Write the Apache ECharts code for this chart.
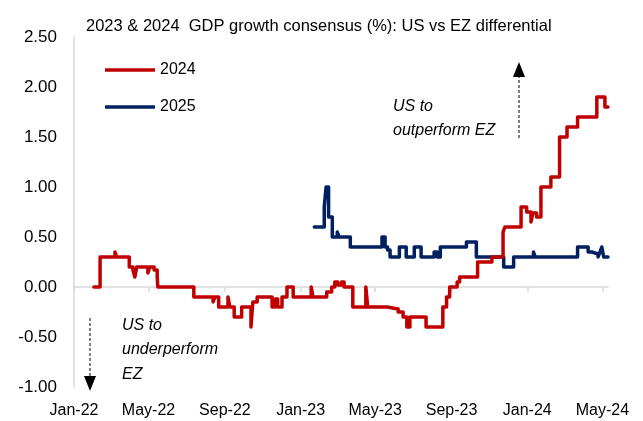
<!DOCTYPE html>
<html>
<head>
<meta charset="utf-8">
<script src="https://cdn.jsdelivr.net/npm/echarts@6/dist/echarts.min.js"></script>
<style>
html,body{margin:0;padding:0;background:#fff;}
#chart{width:643px;height:421px;}
</style>
</head>
<body>
<div id="chart"></div>
<script>
// ---- Data ----
const titleText = '2023 & 2024  GDP growth consensus (%): US vs EZ differential';
const seriesNames = ['2024', '2025'];
const tickDates = ['2022-01-01','2022-05-01','2022-09-01','2023-01-01','2023-05-01','2023-09-01','2024-01-01','2024-05-01'];
const axisStart = '2022-01-01';
const axisEnd = '2024-05-10';

const redDates = ['2022-02-02','2022-02-12','2022-03-08','2022-03-11','2022-03-31','2022-04-06','2022-04-09','2022-04-12','2022-04-30','2022-05-03','2022-05-10','2022-05-15','2022-05-16','2022-07-13','2022-08-13','2022-08-16','2022-08-22','2022-09-06','2022-09-09','2022-09-16','2022-09-28','2022-10-13','2022-10-16','2022-10-23','2022-11-16','2022-11-21','2022-11-25','2022-12-02','2022-12-10','2022-12-20','2023-01-18','2023-01-21','2023-02-12','2023-02-20','2023-02-25','2023-03-02','2023-03-08','2023-03-12','2023-03-26','2023-04-16','2023-04-19','2023-05-20','2023-06-07','2023-06-15','2023-06-21','2023-06-26','2023-07-22','2023-08-18','2023-08-24','2023-08-29','2023-09-10','2023-09-14','2023-10-13','2023-11-05','2023-11-23','2023-11-26','2023-12-22','2023-12-31','2024-01-07','2024-01-10','2024-01-16','2024-01-23','2024-02-08','2024-02-22','2024-03-05','2024-03-22','2024-04-22','2024-05-05','2024-05-10'];
const redValues = [0.00,0.30,0.35,0.30,0.20,0.17,0.10,0.20,0.14,0.20,0.17,0.10,0.00,-0.10,-0.15,-0.10,-0.20,-0.10,-0.20,-0.30,-0.20,-0.40,-0.15,-0.10,-0.20,-0.12,-0.20,-0.10,0.00,-0.10,0.00,-0.10,-0.05,0.00,0.05,0.02,0.05,0.00,-0.20,0.00,-0.20,-0.22,-0.25,-0.30,-0.40,-0.30,-0.40,-0.20,-0.10,0.00,0.05,0.10,0.25,0.30,0.55,0.60,0.80,0.75,0.65,0.74,0.70,1.00,1.10,1.50,1.60,1.70,1.90,1.80,1.80];

const blueDates = ['2023-01-23','2023-02-08','2023-02-11','2023-02-15','2023-02-21','2023-03-01','2023-03-04','2023-03-22','2023-05-12','2023-05-17','2023-05-21','2023-05-25','2023-06-09','2023-06-20','2023-07-03','2023-07-14','2023-08-04','2023-08-09','2023-08-14','2023-09-25','2023-10-11','2023-11-24','2023-12-10','2024-01-11','2024-01-14','2024-03-22','2024-04-08','2024-04-14','2024-04-24','2024-04-27','2024-04-30','2024-05-03','2024-05-10'];
const blueValues = [0.60,0.80,1.00,0.70,0.50,0.55,0.50,0.40,0.50,0.40,0.37,0.30,0.40,0.30,0.40,0.30,0.35,0.30,0.40,0.45,0.30,0.20,0.30,0.35,0.30,0.40,0.35,0.33,0.30,0.35,0.40,0.30,0.30];

// ---- Build ----
const MONTHS = ['Jan','Feb','Mar','Apr','May','Jun','Jul','Aug','Sep','Oct','Nov','Dec'];
const ts = s => Date.parse(s);
const fmtDate = v => { const d = new Date(v); return MONTHS[d.getUTCMonth()] + '-' + String(d.getUTCFullYear()).slice(2); };
const pairs = (ds, vs) => ds.map((d, i) => [ts(d), vs[i]]);
const tickValues = tickDates.map(ts);
const FONT = 'Liberation Sans, Arial, sans-serif';
const GRAY = '#d9d9d9';

const chart = echarts.init(document.getElementById('chart'), null, {renderer: 'canvas'});
chart.setOption({
  animation: false,
  backgroundColor: '#ffffff',
  textStyle: {fontFamily: FONT},
  title: {
    text: titleText, left: 81, top: 13,
    textStyle: {fontSize: 16.5, fontWeight: 'normal', color: '#000', fontFamily: FONT}
  },
  legend: {
    data: seriesNames, orient: 'vertical', left: 100, top: 55,
    icon: 'rect', itemWidth: 50, itemHeight: 3.5, itemGap: 17,
    textStyle: {fontSize: 16, color: '#000', lineHeight: 20, fontFamily: FONT}
  },
  grid: {left: 74, right: 35, top: 37, bottom: 34, containLabel: false},
  xAxis: [{
    type: 'value', min: ts(axisStart), max: ts(axisEnd),
    axisLine: {show: true, onZero: true, lineStyle: {color: GRAY, width: 1.5}},
    axisTick: {show: true, customValues: tickValues, length: 5, lineStyle: {color: GRAY, width: 1.5}},
    axisLabel: {show: false},
    splitLine: {show: false}
  }, {
    type: 'value', min: ts(axisStart), max: ts(axisEnd), position: 'bottom',
    axisLine: {show: false, onZero: false},
    axisTick: {show: false},
    axisLabel: {show: true, customValues: tickValues, formatter: v => fmtDate(v), fontSize: 16, color: '#000', margin: 16, fontFamily: FONT},
    splitLine: {show: false}
  }],
  yAxis: {
    type: 'value', min: -1, max: 2.5, interval: 0.5,
    axisLine: {show: true, lineStyle: {color: GRAY, width: 1.5}},
    axisTick: {show: false},
    axisLabel: {fontSize: 17, color: '#000', margin: 17, formatter: v => v.toFixed(2), fontFamily: FONT},
    splitLine: {show: false}
  },
  series: [{
    name: seriesNames[1], type: 'line', xAxisIndex: 0, step: 'end', showSymbol: false,
    data: pairs(blueDates, blueValues), color: '#002060',
    lineStyle: {width: 3.5, color: '#002060', join: 'round', cap: 'round'}, z: 2
  }, {
    name: seriesNames[0], type: 'line', xAxisIndex: 0, step: 'end', showSymbol: false,
    data: pairs(redDates, redValues), color: '#c00000',
    lineStyle: {width: 3.5, color: '#c00000', join: 'round', cap: 'round'}, z: 3
  }],
  graphic: [
    {type: 'text', left: 393, top: 95, style: {text: 'US to\noutperform EZ', font: 'italic 16px ' + FONT, fill: '#000', lineHeight: 24}},
    {type: 'line', shape: {x1: 519, y1: 138, x2: 519, y2: 76}, style: {stroke: '#000', lineWidth: 1, lineDash: [3, 2]}},
    {type: 'polygon', shape: {points: [[513, 77], [525, 77], [519, 62]]}, style: {fill: '#000'}},
    {type: 'text', left: 122, top: 313, style: {text: 'US to\nunderperform\nEZ', font: 'italic 16px ' + FONT, fill: '#000', lineHeight: 24.5}},
    {type: 'line', shape: {x1: 90, y1: 318, x2: 90, y2: 377}, style: {stroke: '#000', lineWidth: 1, lineDash: [3, 2]}},
    {type: 'polygon', shape: {points: [[84, 376], [96, 376], [90, 391]]}, style: {fill: '#000'}}
  ]
});
</script>
</body>
</html>
